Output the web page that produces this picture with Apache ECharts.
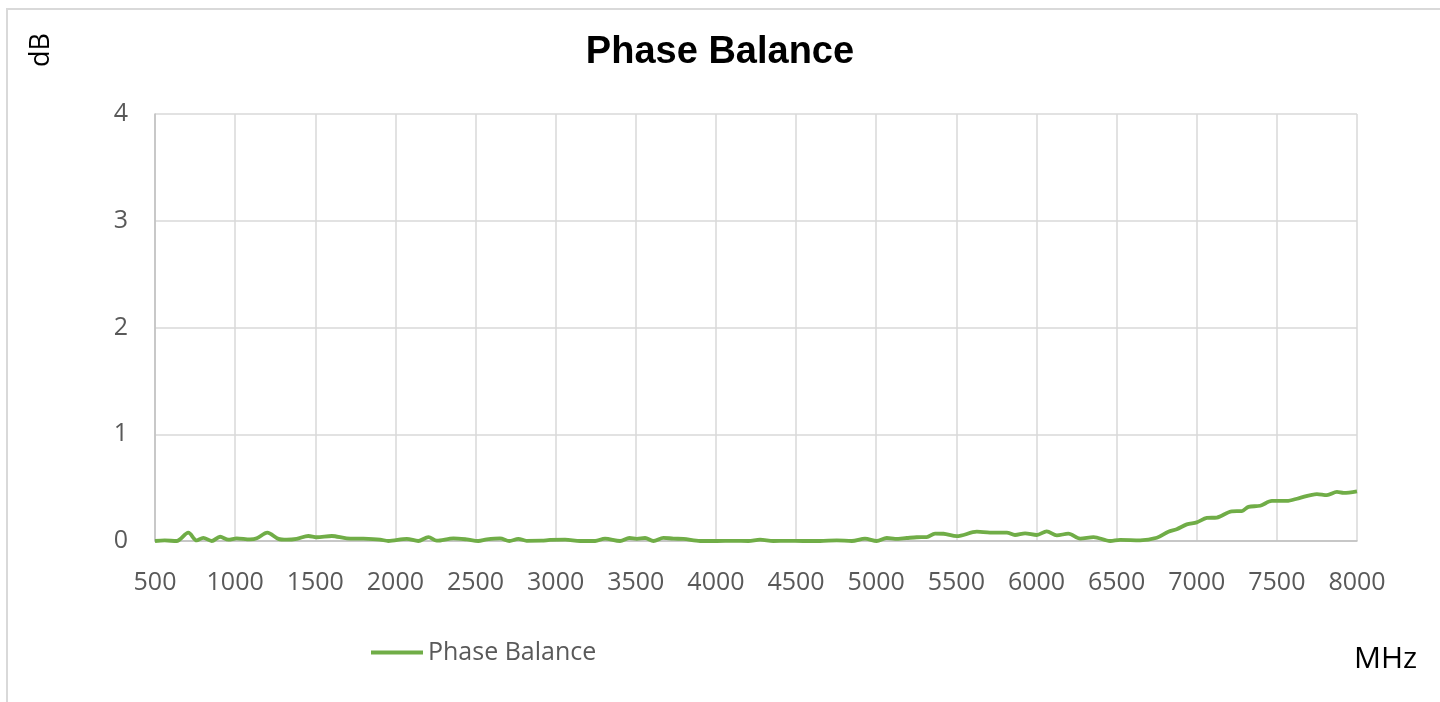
<!DOCTYPE html>
<html>
<head>
<meta charset="utf-8">
<script src="https://cdn.jsdelivr.net/npm/echarts@6/dist/echarts.min.js"></script>
<style>
	html, body { margin: 0; padding: 0; background: #fff; }
	#frame { position: absolute; left: 6px; top: 8px; width: 1500px; height: 720px; border: 2px solid #D9D9D9; }
	#chart { position: absolute; left: 0; top: 0; width: 1440px; height: 702px; }
</style>
</head>
<body>
<div id="frame"></div>
<div id="chart"></div>
<script>
// 频率 (MHz)
var freqs = [500, 560, 635, 708, 760, 801, 854, 906, 958, 1010, 1093, 1135, 1201, 1270, 1322, 1384,
	1457, 1509, 1603, 1696, 1800, 1904, 1956, 2071, 2143, 2206, 2258, 2362, 2445, 2517, 2570, 2653,
	2711, 2767, 2819, 2913, 2965, 3059, 3153, 3246, 3308, 3402, 3460, 3506, 3558, 3610, 3672, 3735,
	3797, 3901, 4005, 4109, 4203, 4275, 4358, 4442, 4545, 4650, 4754, 4848, 4930, 5003, 5066, 5118,
	5190, 5253, 5315, 5367, 5420, 5503, 5628, 5710, 5815, 5866, 5929, 6002, 6064, 6127, 6199, 6273,
	6356, 6460, 6522, 6647, 6751, 6823, 6875, 6938, 7000, 7063, 7125, 7219, 7281, 7323, 7396, 7469,
	7562, 7635, 7750, 7812, 7875, 7917, 8000];
// 相位平衡 (dB)
var balance = [0.000, 0.005, 0.000, 0.078, 0.005, 0.030, 0.000, 0.040, 0.012, 0.025, 0.015, 0.025, 0.078, 0.020, 0.012, 0.020,
	0.047, 0.035, 0.047, 0.025, 0.022, 0.013, 0.000, 0.020, 0.000, 0.037, 0.003, 0.025, 0.015, 0.000, 0.015, 0.025,
	0.000, 0.020, 0.002, 0.003, 0.010, 0.013, 0.000, 0.000, 0.022, 0.000, 0.028, 0.020, 0.028, 0.000, 0.030, 0.022,
	0.020, 0.000, 0.000, 0.002, 0.000, 0.013, 0.000, 0.002, 0.000, 0.000, 0.006, 0.000, 0.022, 0.000, 0.028, 0.020,
	0.028, 0.035, 0.037, 0.070, 0.068, 0.045, 0.087, 0.078, 0.078, 0.056, 0.072, 0.056, 0.090, 0.053, 0.069, 0.022,
	0.037, 0.000, 0.010, 0.006, 0.030, 0.087, 0.110, 0.156, 0.175, 0.216, 0.220, 0.278, 0.280, 0.320, 0.330, 0.375,
	0.375, 0.400, 0.440, 0.430, 0.460, 0.450, 0.465];
var seriesName = 'Phase Balance';

var points = freqs.map(function(f, i) { return [f, balance[i]]; });

var myChart = echarts.init(document.getElementById('chart'));
var option = {
	animation: false,
	title: {
		text: 'Phase Balance',
		left: 'center',
		top: 29,
		textStyle: { fontFamily: 'Liberation Sans', fontWeight: 'bold', fontSize: 38, color: '#000' }
	},
	legend: {
		data: [seriesName],
		left: 366,
		top: 635,
		itemWidth: 52,
		itemHeight: 4,
		itemGap: 6,
		icon: 'rect',
		textStyle: { fontFamily: 'Open Sans', fontSize: 25, color: '#595959' }
	},
	grid: { left: 155, right: 83, top: 114, bottom: 161 },
	xAxis: {
		type: 'value',
		min: 500,
		max: 8000,
		interval: 500,
		axisLine: { lineStyle: { color: '#BFBFBF', width: 1.5 } },
		axisTick: { show: false },
		axisLabel: {
			margin: 29, fontFamily: 'Open Sans', fontSize: 25, color: '#595959',
			formatter: function(v) { return String(v); }
		},
		splitLine: { lineStyle: { color: '#D9D9D9', width: 1.5 } }
	},
	yAxis: {
		type: 'value',
		min: 0,
		max: 4,
		interval: 1,
		axisLine: { show: true, lineStyle: { color: '#BFBFBF', width: 1.5 } },
		axisTick: { show: false },
		axisLabel: { margin: 27, fontFamily: 'Open Sans', fontSize: 25, color: '#595959' },
		splitLine: { lineStyle: { color: '#D9D9D9', width: 1.5 } }
	},
	graphic: [
		{ type: 'text', left: 28, top: 33, rotation: Math.PI / 2,
			style: { text: 'dB', fontFamily: 'Open Sans', fontSize: 27, fill: '#000' } },
		{ type: 'text', left: 1354, top: 644,
			style: { text: 'MHz', fontFamily: 'Open Sans', fontSize: 30, fill: '#000' } }
	],
	series: [{
		name: seriesName,
		type: 'line',
		data: points,
		smooth: 0.3,
		showSymbol: false,
		lineStyle: { color: '#70AD47', width: 3.8 },
		itemStyle: { color: '#70AD47' }
	}]
};
myChart.setOption(option);
</script>
</body>
</html>
